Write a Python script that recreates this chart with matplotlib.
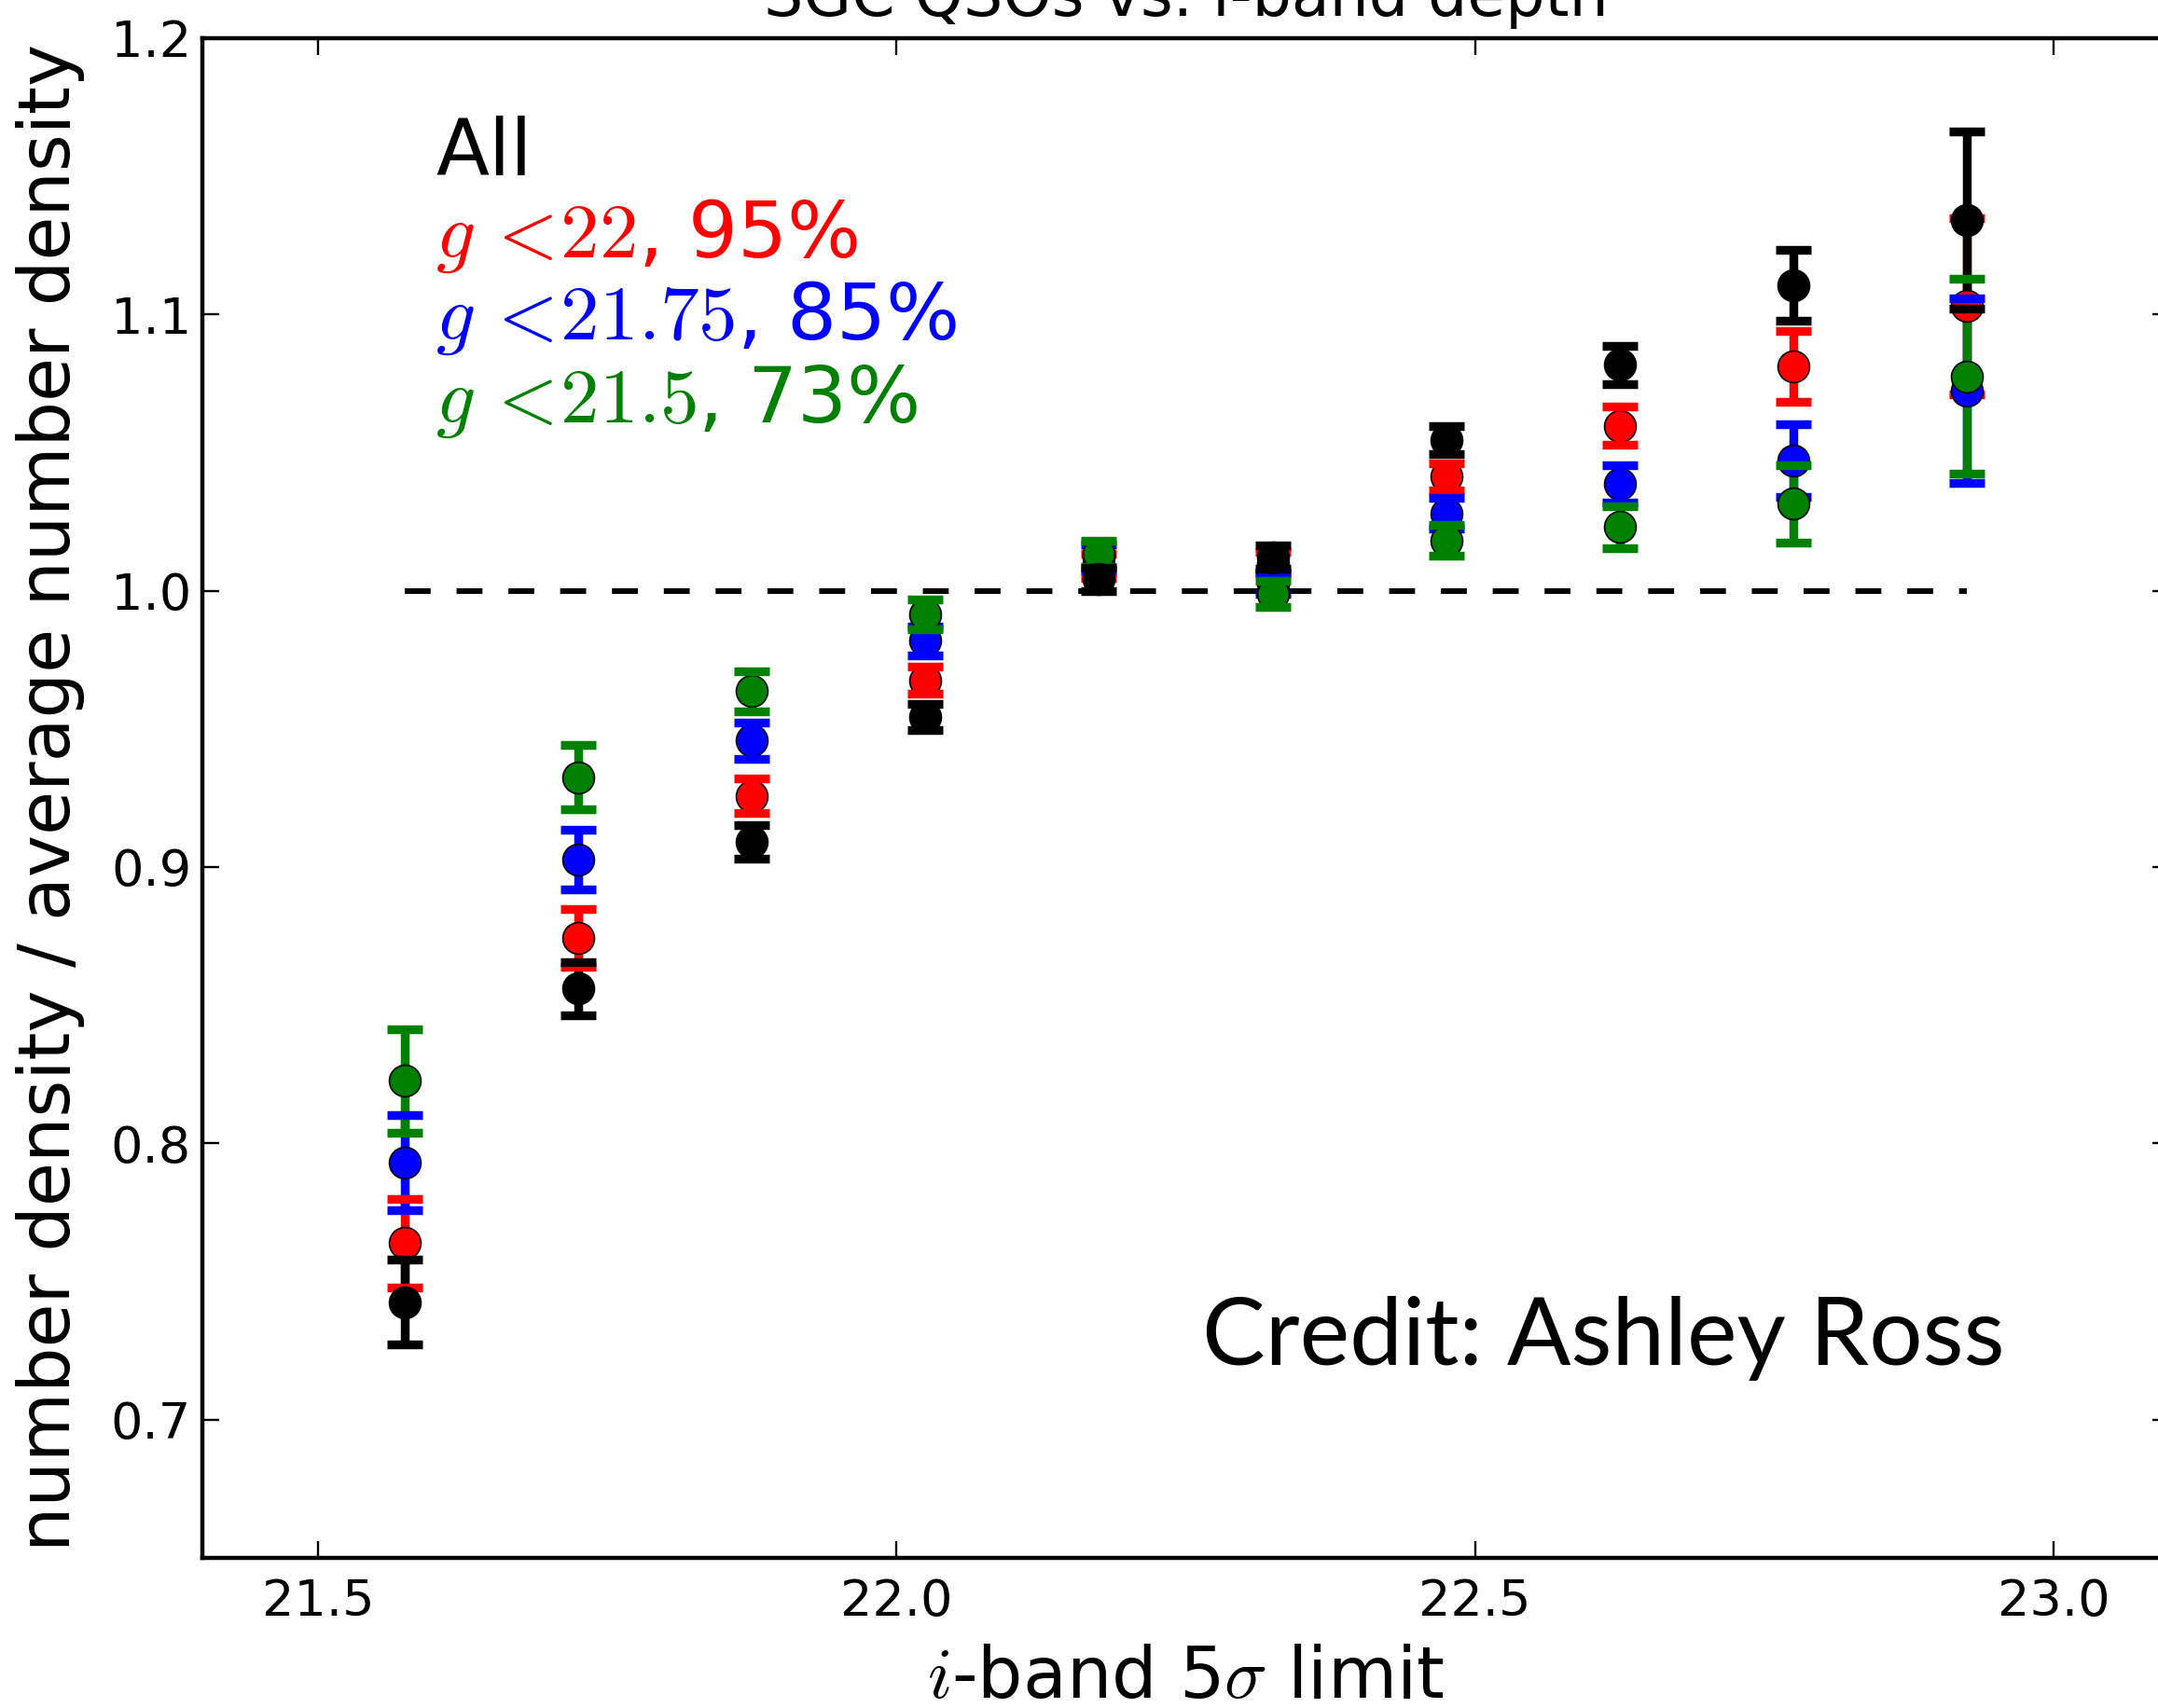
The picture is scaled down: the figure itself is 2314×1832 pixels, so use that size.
import matplotlib
matplotlib.use("Agg")
import matplotlib.pyplot as plt

plt.rcParams['mathtext.fontset'] = 'cm'
plt.rcParams['font.family'] = ['DejaVu Sans']
plt.rcParams['lines.scale_dashes'] = False

# ---- data ----
depth = [21.575, 21.725, 21.875, 22.025, 22.175, 22.325, 22.475, 22.625, 22.775, 22.925]

all_y = [0.7425, 0.8560, 0.9091, 0.9544, 1.0042, 1.0121, 1.0544, 1.0817, 1.1106, 1.1342]
all_e = [0.0153, 0.0097, 0.0060, 0.0047, 0.0042, 0.0042, 0.0051, 0.0069, 0.0128, 0.0320]

g22_y = [0.7639, 0.8743, 0.9257, 0.9676, 1.0090, 1.0101, 1.0412, 1.0597, 1.0811, 1.1030]
g22_e = [0.0160, 0.0105, 0.0063, 0.0048, 0.0044, 0.0040, 0.0050, 0.0069, 0.0129, 0.0319]

g2175_y = [0.7929, 0.9027, 0.9457, 0.9819, 1.0120, 1.0027, 1.0280, 1.0387, 1.0471, 1.0724]
g2175_e = [0.0172, 0.0108, 0.0067, 0.0052, 0.0047, 0.0040, 0.0057, 0.0067, 0.0132, 0.0333]

g215_y = [0.8226, 0.9325, 0.9636, 0.9914, 1.0134, 0.9988, 1.0181, 1.0230, 1.0314, 1.0775]
g215_e = [0.0187, 0.0117, 0.0072, 0.0055, 0.0047, 0.0048, 0.0056, 0.0075, 0.0140, 0.0352]

labels = ['All', r'$g\,<\!22$, 95%', r'$g\,<\!21.75$, 85%', r'$g\,<\!21.5$, 73%']
label_colors = ['k', 'r', 'b', 'g']

xticks = [21.5, 22.0, 22.5, 23.0]
yticks = [0.7, 0.8, 0.9, 1.0, 1.1, 1.2]

# ---- figure ----
fig = plt.figure(figsize=(11.57, 9.16), dpi=200)
ax = fig.add_axes([0.09378, 0.0879, 0.9114, 0.8899])

ax.plot([depth[0], depth[-1]], [1.0, 1.0], color='k', lw=2.2,
        linestyle='--', dashes=(10, 10), zorder=1.5)

series = [(g22_y, g22_e, 'r'), (g2175_y, g2175_e, 'b'),
          (g215_y, g215_e, 'g'), (all_y, all_e, 'k')]
for i, (yv, ev, c) in enumerate(series):
    cont = ax.errorbar(depth, yv, yerr=ev, fmt='o', color=c, ecolor=c,
                       ms=12.2, mec='k', elinewidth=3.4,
                       capsize=6.8, capthick=3.4)
    data_line, caplines, barcols = cont.lines
    data_line.set_markeredgewidth(0.6)
    data_line.set_zorder(2.1 + 0.02 * i)
    for cl in caplines:
        cl.set_markeredgewidth(3.4)
        cl.set_zorder(2.11 + 0.02 * i)
    for bc in barcols:
        bc.set_zorder(2.0)

ax.set_xlim(21.4, 23.1)
ax.set_ylim(0.65, 1.2)
ax.set_xticks(xticks)
ax.set_xticklabels([f'{v:.1f}' for v in xticks])
ax.set_yticks(yticks)
ax.set_yticklabels([f'{v:.1f}' for v in yticks])
ax.tick_params(direction='in', top=True, right=True, length=6.5, width=0.85,
               labelsize=19.5)
ax.tick_params(axis='x', pad=7.5)
ax.tick_params(axis='y', pad=4.3)
for s in ax.spines.values():
    s.set_linewidth(1.6)

ax.set_xlabel(r'$i$-band 5$\sigma$ limit', fontsize=27.5, labelpad=7)
ax.set_ylabel('number density / average number density', fontsize=27.5,
              labelpad=10)
ax.set_title('SGC QSOs vs. i-band depth', fontsize=24, pad=8.6)

ys = [0.9095, 0.856, 0.8018, 0.747]
for lab, col, yy in zip(labels, label_colors, ys):
    ax.text(0.1185, yy, lab, color=col, fontsize=30, transform=ax.transAxes,
            ha='left', va='baseline')

ax.text(0.9166, 0.1268, 'Credit: Ashley Ross', fontsize=36.5, family='Lato',
        transform=ax.transAxes, ha='right', va='baseline')

fig.savefig('out.png', dpi=200)
